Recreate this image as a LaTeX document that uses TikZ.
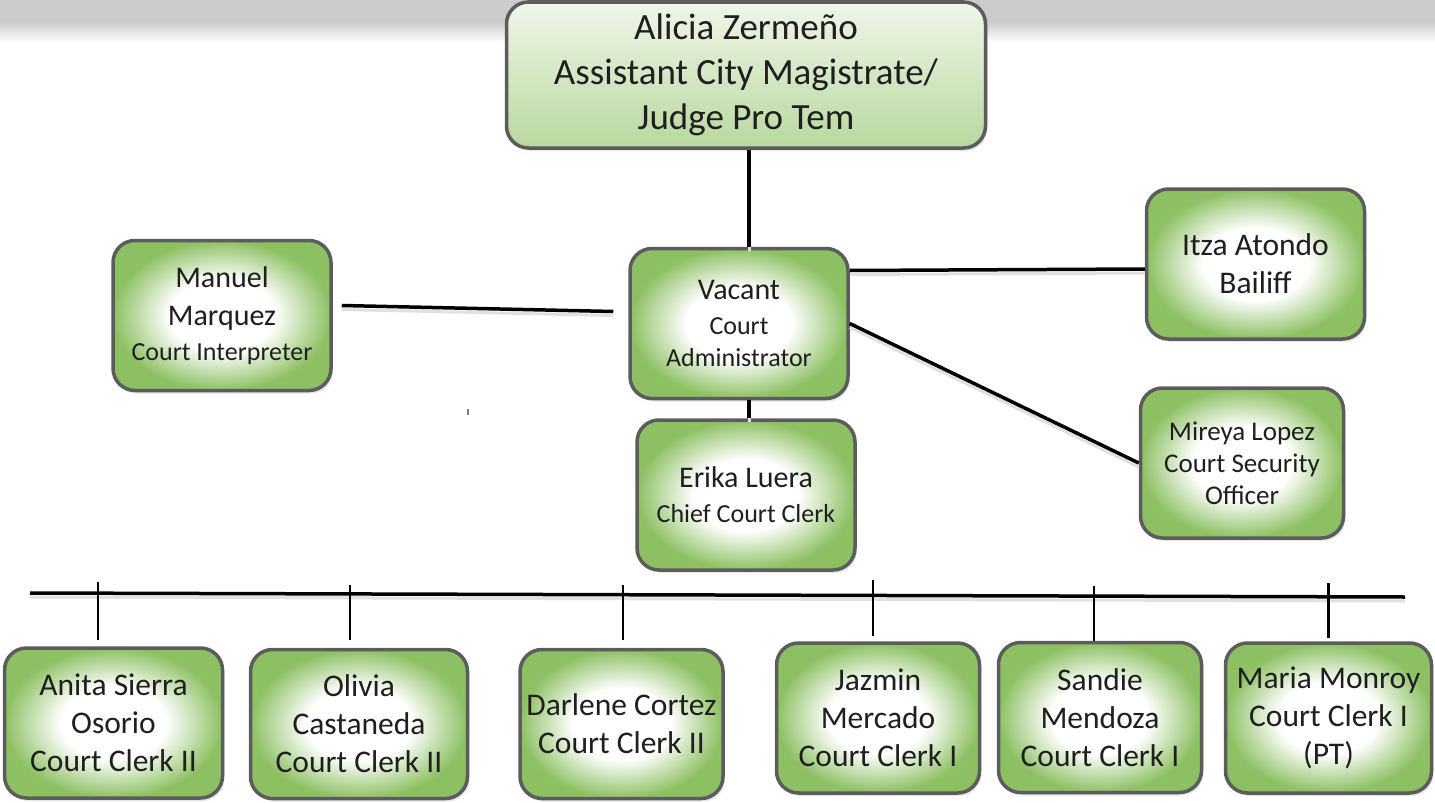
\documentclass[tikz,border=0pt]{standalone}
\usepackage{fontspec}
\setmainfont{Carlito}
\usetikzlibrary{positioning,shadows}
\definecolor{boxgreen}{RGB}{141,192,99}
\definecolor{boxedge}{RGB}{92,92,92}
\definecolor{topgreen}{RGB}{184,216,158}
\definecolor{toplight}{RGB}{240,246,234}
\pgfdeclareradialshading{glow}{\pgfpoint{0bp}{0bp}}{color(0bp)=(white); color(12bp)=(white); color(25bp)=(boxgreen); color(50bp)=(boxgreen)}
\newcommand\rolefont{\fontsize{26}{32}\selectfont}
\tikzset{staff box/.style={rectangle,rounded corners=22pt,draw=boxedge,line width=3.5pt,shading=glow,
            align=center,inner sep=0pt,minimum width=218pt,minimum height=150pt,
            text=black!88,font=\fontsize{31.5}{38}\selectfont,
            drop shadow={opacity=0.2,shadow xshift=2pt,shadow yshift=-3pt}},
         narrow box/.style={staff box,minimum width=203pt},
         head box/.style={staff box,top color=toplight,bottom color=topgreen,font=\fontsize{37}{45}\selectfont},
         link/.style={line width=3.5pt,preaction={draw=black!12,line width=3pt,transform canvas={yshift=-4pt}}},
         tick/.style={line width=2.5pt}
}
\begin{document}
\begin{tikzpicture}[x=1pt,y=-1pt]
\useasboundingbox (0,0) rectangle (1435,803);
% grey band along the top
\fill[black!20] (0,0) rectangle (1435,22);
\shade[top color=black!20,bottom color=white] (0,22) rectangle (1435,42);

% boxes
\node[head box,minimum width=479pt,minimum height=146pt] (magistrate) at (746,75) {Alicia Zermeño\\Assistant City Magistrate/\\Judge Pro Tem};
\node[staff box] (admin) at (739,323.5) {{\fontsize{30}{38}\selectfont Vacant}\\[-3pt]{\rolefont Court}\\[-6pt]{\rolefont Administrator}};
\node[staff box] (interp) at (222,315.5) {{\fontsize{30}{38}\selectfont Manuel}\\{\fontsize{30}{38}\selectfont Marquez}\\[-3pt]{\rolefont Court Interpreter}};
\node[staff box] (bailiff) at (1255.5,264) {Itza Atondo\\Bailiff};
\node[narrow box,font=\fontsize{27}{32}\selectfont] (security) at (1242,463) {Mireya Lopez\\Court Security\\Officer};
\node[staff box] (chief) at (746,495) {{\fontsize{30}{38}\selectfont Erika Luera}\\[-3pt]{\rolefont Chief Court Clerk}};

\node[staff box] (anita) at (113.5,723) {Anita Sierra\\Osorio\\Court Clerk II};
\node[staff box,minimum width=217pt,minimum height=149pt] (olivia) at (359,724) {Olivia\\Castaneda\\Court Clerk II};
\node[narrow box,minimum height=149pt] (darlene) at (621.5,724) {Darlene Cortez\\Court Clerk II};
\node[narrow box] (jazmin) at (878,718) {Jazmin\\Mercado\\Court Clerk I};
\node[narrow box] (sandie) at (1100,717.5) {Sandie\\Mendoza\\Court Clerk I};
\node[narrow box,minimum width=206pt] (maria) at (1328.5,718) {Maria Monroy\\Court Clerk I\\(PT)};

% connectors
\draw[link] ([xshift=3pt]magistrate.south) -- ([xshift=3pt]magistrate.south |- admin.north);
\draw[link] ([xshift=3pt]chief.north) -- ([xshift=3pt]chief.north |- admin.south);
\draw[link] ([xshift=9pt,yshift=10pt]interp.east) -- ([xshift=-15pt,yshift=12pt]admin.west);
\draw[link] ([yshift=53pt]admin.east) -- ([yshift=-5pt]bailiff.west);
\draw[link] (admin.east) -- (security.west);
\draw[gray,line width=1.5pt] (468,409) -- (468,415);

% bus over the clerks
\coordinate (bus west) at (30,593);
\coordinate (bus east) at (1405,597);
\draw[link] (bus west) -- (bus east);
\draw[tick] ([xshift=-15.5pt,yshift=6pt]anita.north) -- ++(0,-58);
\draw[tick] ([xshift=-9pt,yshift=8pt]olivia.north) -- ++(0,-55);
\draw[tick] ([xshift=1.5pt,yshift=8pt]darlene.north) -- ++(0,-55);
\draw[tick] ([xshift=-5pt,yshift=5pt]jazmin.north) -- ++(0,-56);
\draw[tick] ([xshift=-6pt,yshift=0pt]sandie.north) -- ++(0,-55);
\draw[tick] ([yshift=3pt]maria.north) -- ++(0,-55);
\end{tikzpicture}
\end{document}
